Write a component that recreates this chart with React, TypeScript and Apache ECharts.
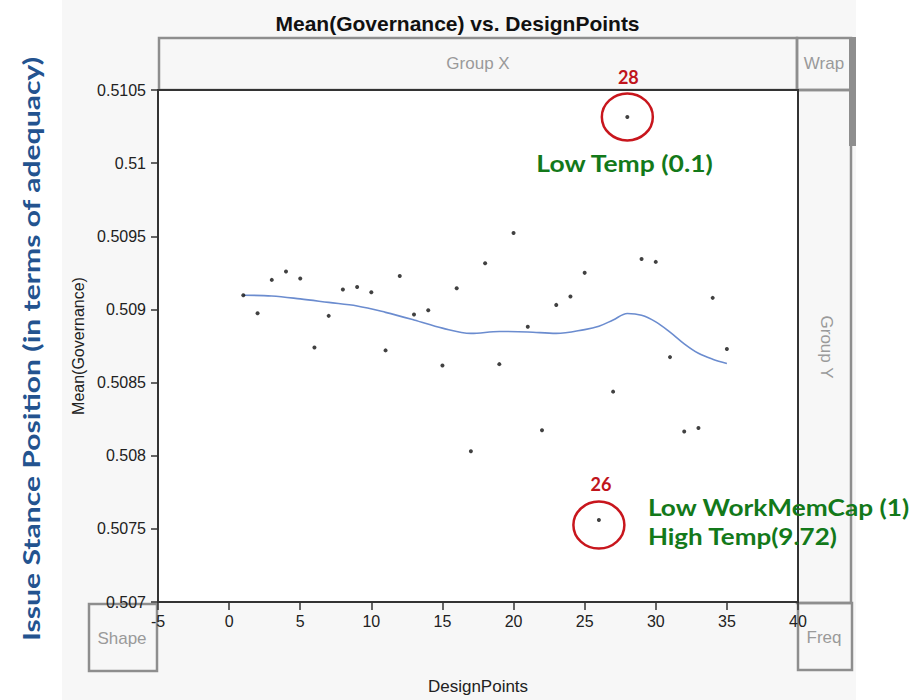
import React, { useEffect, useRef } from "react";
import * as echarts from "echarts";

// ---- data ----
const designPoints = [
  1, 2, 3, 4, 5, 6, 7, 8, 9, 10, 11, 12, 13, 14, 15, 16, 17, 18,
  19, 20, 21, 22, 23, 24, 25, 26, 27, 28, 29, 30, 31, 32, 33, 34, 35,
];
const meanGovernance = [
  0.509097, 0.508974, 0.509202, 0.509259, 0.509211, 0.50874, 0.508956,
  0.509136, 0.509154, 0.509117, 0.50872, 0.509229, 0.508965, 0.508995,
  0.508617, 0.509145, 0.508031, 0.509315, 0.508626, 0.509523, 0.508881,
  0.508174, 0.509031, 0.509088, 0.50925, 0.50756, 0.508438, 0.510316,
  0.509345, 0.509325, 0.508674, 0.508165, 0.50819, 0.509079, 0.508729,
];
const smoothX = [1, 3, 5, 7, 9, 11, 13, 15, 17, 19, 21, 23, 25, 26, 27, 28, 29, 30, 31, 32, 33, 34, 35];
const smoothY = [
  0.509097, 0.509092, 0.509072, 0.509048, 0.509024, 0.50898, 0.508928,
  0.508872, 0.508836, 0.508849, 0.508846, 0.508836, 0.508862, 0.508885,
  0.508928, 0.508972, 0.50896, 0.508915, 0.508845, 0.508765, 0.5087,
  0.50866, 0.508631,
];
const xMin = -5;
const xMax = 40;
const xStep = 5;
const yMin = 0.507;
const yMax = 0.5105;
const yStep = 0.0005;

const titleText = "Mean(Governance) vs. DesignPoints";
const xName = "DesignPoints";
const yName = "Mean(Governance)";
const sideLabel = "Issue Stance Position (in terms of adequacy)";
const callouts = [
  { point: 28, label: "28", notes: ["Low Temp (0.1)"] },
  { point: 26, label: "26", notes: ["Low WorkMemCap (1)", "High Temp(9.72)"] },
];

const SANS = '"Liberation Sans", Arial, sans-serif';
const CAL = 'Lato, "Open Sans", sans-serif';

function measure(text: string, font: string): number {
  const ctx = document.createElement("canvas").getContext("2d");
  if (!ctx) return 100;
  ctx.font = font;
  return ctx.measureText(text).width || 100;
}

function boxText(text: string, x: number, y: number, rotation = 0) {
  return {
    type: "text",
    x,
    y,
    rotation,
    z: -5,
    silent: true,
    style: {
      text,
      fill: "#9a9a9a",
      font: `17px ${SANS}`,
      align: "center",
      verticalAlign: "middle",
      textAlign: "center",
      textVerticalAlign: "middle",
    },
  };
}

function boxRect(x: number, y: number, w: number, h: number) {
  return {
    type: "rect",
    z: -6,
    silent: true,
    shape: { x, y, width: w, height: h },
    style: { fill: "none", stroke: "#8e8e8e", lineWidth: 2.5 },
  };
}

export default function App() {
  const ref = useRef<HTMLDivElement>(null);

  useEffect(() => {
    if (!ref.current) return;
    const chart = echarts.init(ref.current, undefined, { renderer: "svg" });

    const sideFont = `bold 22px ${CAL}`;
    const sideScale = 585 / measure(sideLabel, sideFont);

    const baseGraphic: any[] = [
      { type: "rect", z: -10, silent: true, shape: { x: 62, y: 0, width: 794, height: 700 }, style: { fill: "#f7f7f7" } },
      boxRect(159, 38, 638, 52),
      boxRect(797, 38, 54, 52),
      boxRect(797, 90, 54, 513),
      boxRect(89, 604, 68, 67),
      boxRect(798, 603, 54, 67),
      { type: "rect", z: -5, silent: true, shape: { x: 849, y: 37, width: 7, height: 109 }, style: { fill: "#8e8e8e" } },
      boxText("Group X", 478, 63),
      boxText("Wrap", 824, 63),
      boxText("Group Y", 826, 347, -Math.PI / 2),
      boxText("Shape", 122, 638),
      boxText("Freq", 824, 637),
      {
        type: "text",
        x: 32,
        y: 349,
        rotation: Math.PI / 2,
        scaleX: sideScale,
        silent: true,
        z: 10,
        style: {
          text: sideLabel,
          fill: "#23538f",
          font: sideFont,
          align: "center",
          verticalAlign: "middle",
          textAlign: "center",
          textVerticalAlign: "middle",
        },
      },
    ];

    const option: any = {
      animation: false,
      backgroundColor: "transparent",
      title: {
        text: titleText,
        left: "center",
        top: 8,
        textStyle: { fontFamily: SANS, fontWeight: "bold", fontSize: 21, color: "#111" },
      },
      grid: {
        left: 158,
        top: 90,
        right: 117,
        bottom: 97,
        show: true,
        backgroundColor: "#ffffff",
        borderColor: "#333",
        borderWidth: 2,
      },
      xAxis: {
        type: "value",
        min: xMin,
        max: xMax,
        interval: xStep,
        name: xName,
        nameLocation: "middle",
        nameGap: 76,
        nameTextStyle: { fontFamily: SANS, fontSize: 17, color: "#222" },
        axisLine: { show: true, onZero: false, lineStyle: { color: "#333", width: 2 } },
        axisTick: { show: true, length: 8, lineStyle: { color: "#333", width: 1.5 } },
        axisLabel: { fontFamily: SANS, fontSize: 16, color: "#222", margin: 11 },
        splitLine: { show: false },
      },
      yAxis: {
        type: "value",
        min: yMin,
        max: yMax,
        interval: yStep,
        name: yName,
        nameLocation: "middle",
        nameGap: 72,
        nameTextStyle: { fontFamily: SANS, fontSize: 16, color: "#222" },
        axisLine: { show: true, onZero: false, lineStyle: { color: "#333", width: 2 } },
        axisTick: { show: true, length: 7, lineStyle: { color: "#333", width: 1.5 } },
        axisLabel: {
          fontFamily: SANS,
          fontSize: 16,
          color: "#222",
          margin: 12,
          formatter: (v: number) => String(parseFloat(v.toFixed(4))),
        },
        splitLine: { show: false },
      },
      series: [
        {
          type: "line",
          data: smoothX.map((x, i) => [x, smoothY[i]]),
          smooth: 0.35,
          showSymbol: false,
          lineStyle: { color: "#6b8ccf", width: 1.6 },
          z: 2,
        },
        {
          type: "scatter",
          data: designPoints.map((x, i) => [x, meanGovernance[i]]),
          symbol: "circle",
          symbolSize: 4,
          itemStyle: { color: "#111" },
          z: 3,
        },
      ],
      graphic: baseGraphic,
    };

    chart.setOption(option);

    // callouts around specific design points, positioned via the axes
    const annot: any[] = [];
    const greenFont = `bold 22px ${CAL}`;
    const redFont = `bold 18px ${CAL}`;
    const targets: Record<string, number> = {
      "Low Temp (0.1)": 178,
      "Low WorkMemCap (1)": 262,
      "High Temp(9.72)": 190,
    };
    callouts.forEach((c, ci) => {
      const idx = designPoints.indexOf(c.point);
      const p = chart.convertToPixel({ gridIndex: 0 }, [c.point, meanGovernance[idx]]) as number[];
      const [px, py] = p;
      const isTop = ci === 0;
      const cy = isTop ? py : py + 5;
      annot.push({
        type: "ellipse",
        z: 20,
        silent: true,
        shape: { cx: px, cy, rx: 25.5, ry: 23.5 },
        style: { fill: "none", stroke: "#c8161d", lineWidth: 2.5 },
      });
      annot.push({
        type: "text",
        z: 20,
        silent: true,
        x: px + (isTop ? 1 : 2),
        y: py - (isTop ? 40 : 36),
        style: {
          text: c.label,
          fill: "#c0141b",
          font: redFont,
          align: "center",
          verticalAlign: "middle",
          textAlign: "center",
          textVerticalAlign: "middle",
        },
      });
      c.notes.forEach((n, ni) => {
        const w = measure(n, greenFont);
        const sx = (targets[n] || w) / w;
        const nx = isTop ? px - 91 : px + 49;
        const ny = isTop ? py + 47 : py - 12.5 + ni * 29;
        annot.push({
          type: "text",
          z: 20,
          silent: true,
          x: nx,
          y: ny,
          scaleX: sx,
          style: {
            text: n,
            fill: "#13791a",
            font: greenFont,
            align: "left",
            verticalAlign: "middle",
            textAlign: "left",
            textVerticalAlign: "middle",
          },
        });
      });
    });

    chart.setOption({ graphic: [...baseGraphic, ...annot] });

    return () => chart.dispose();
  }, []);

  return (
    <div
      ref={ref}
      style={{ position: "fixed", left: 0, top: 0, width: 915, height: 700, background: "#ffffff" }}
    />
  );
}
